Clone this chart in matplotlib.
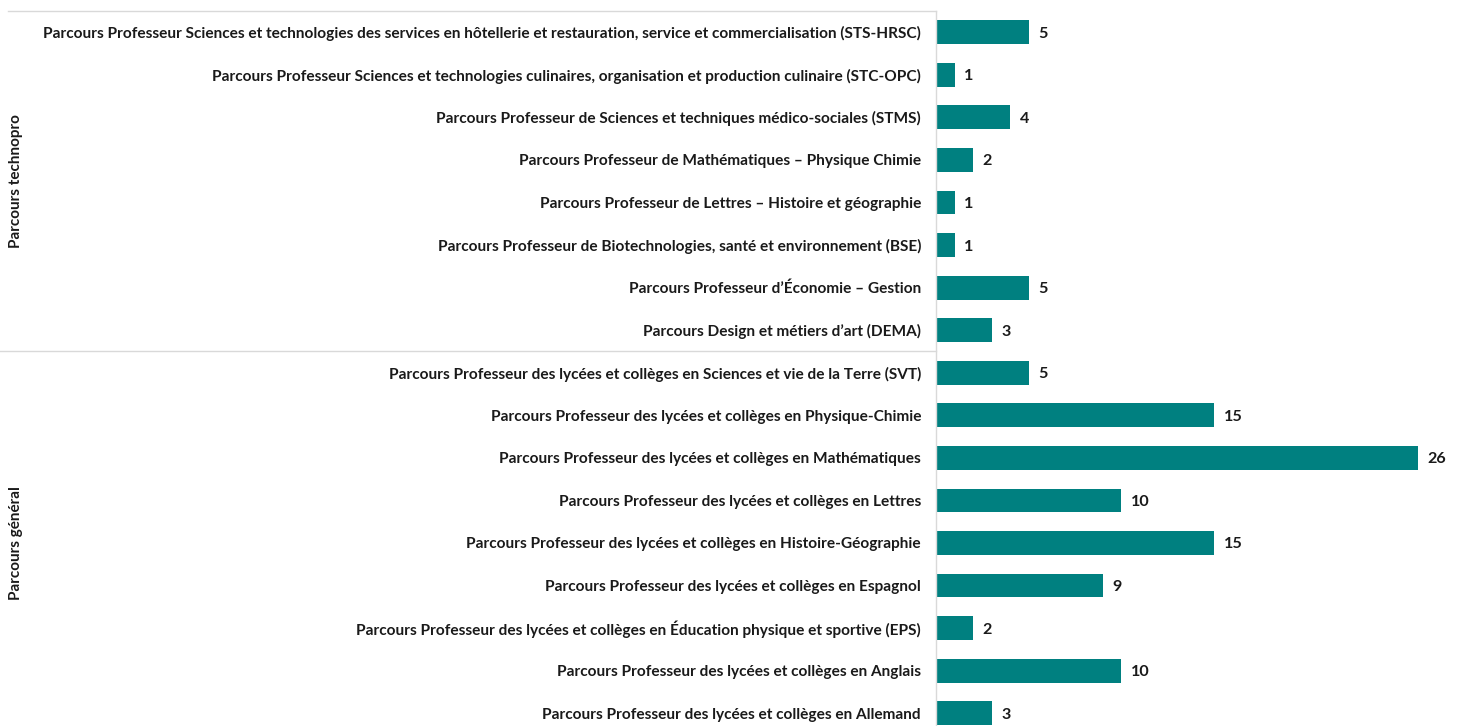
import matplotlib
matplotlib.use("Agg")
import matplotlib.pyplot as plt
from matplotlib.transforms import blended_transform_factory

categories = [
    "Parcours Professeur Sciences et technologies des services en hôtellerie et restauration, service et commercialisation (STS-HRSC)",
    "Parcours Professeur Sciences et technologies culinaires, organisation et production culinaire (STC-OPC)",
    "Parcours Professeur de Sciences et techniques médico-sociales (STMS)",
    "Parcours Professeur de Mathématiques – Physique Chimie",
    "Parcours Professeur de Lettres – Histoire et géographie",
    "Parcours Professeur de Biotechnologies, santé et environnement (BSE)",
    "Parcours Professeur d’Économie – Gestion",
    "Parcours Design et métiers d’art (DEMA)",
    "Parcours Professeur des lycées et collèges en Sciences et vie de la Terre (SVT)",
    "Parcours Professeur des lycées et collèges en Physique-Chimie",
    "Parcours Professeur des lycées et collèges en Mathématiques",
    "Parcours Professeur des lycées et collèges en Lettres",
    "Parcours Professeur des lycées et collèges en Histoire-Géographie",
    "Parcours Professeur des lycées et collèges en Espagnol",
    "Parcours Professeur des lycées et collèges en Éducation physique et sportive (EPS)",
    "Parcours Professeur des lycées et collèges en Anglais",
    "Parcours Professeur des lycées et collèges en Allemand",
]
values = [5, 1, 4, 2, 1, 1, 5, 3, 5, 15, 26, 10, 15, 9, 2, 10, 3]
groups = ["Parcours technopro", "Parcours général"]
group_sizes = [8, 9]

W, H = 1464, 726
fig = plt.figure(figsize=(W / 100, H / 100), dpi=100)
ax_left, ax_top, ax_bottom = 936, 11, 726
ax = fig.add_axes([ax_left / W, 0, (W - ax_left) / W, (ax_bottom - ax_top) / H])

color = "#008080"
font = "Lato"
fs = 11.1
txt_c = "#1a1a1a"
pos = list(range(len(values)))
ax.barh(pos, values, height=0.56, color=color)
ax.set_ylim(16.3, -0.5)
ax.set_xlim(0, 28.5)
for s in ax.spines.values():
    s.set_visible(False)
ax.set_xticks([])
ax.set_yticks(pos)
ax.set_yticklabels(categories, fontfamily=font, fontweight="bold", fontsize=fs, color=txt_c)
ax.tick_params(axis="y", length=0, pad=10.8)

for p, v in zip(pos, values):
    ax.annotate(str(v), (v, p), xytext=(7, 0), textcoords="offset points",
                va="center_baseline", ha="left", fontfamily=font, fontweight="bold",
                fontsize=fs + 0.5, color=txt_c)

line_c = "#d9d9d9"
ax.axvline(0, color=line_c, lw=1, clip_on=False)
tr = blended_transform_factory(ax.transAxes, ax.transData)
xl = -ax_left / (W - ax_left)
ax.plot([xl + 8 / (W - ax_left), 0], [-0.5, -0.5], transform=tr, color=line_c, lw=1, clip_on=False)
start = 0
for g, n in zip(groups, group_sizes):
    center = start + (n - 1) / 2
    ax.text(xl + 16 / (W - ax_left), center, g, transform=tr, rotation=90,
            ha="center", va="center", fontfamily=font, fontweight="bold",
            fontsize=11, color=txt_c)
    start += n
    if start < len(values):
        ax.plot([xl, 0], [start - 0.5, start - 0.5], transform=tr, color=line_c, lw=1, clip_on=False)

fig.savefig("out.png", dpi=100)
